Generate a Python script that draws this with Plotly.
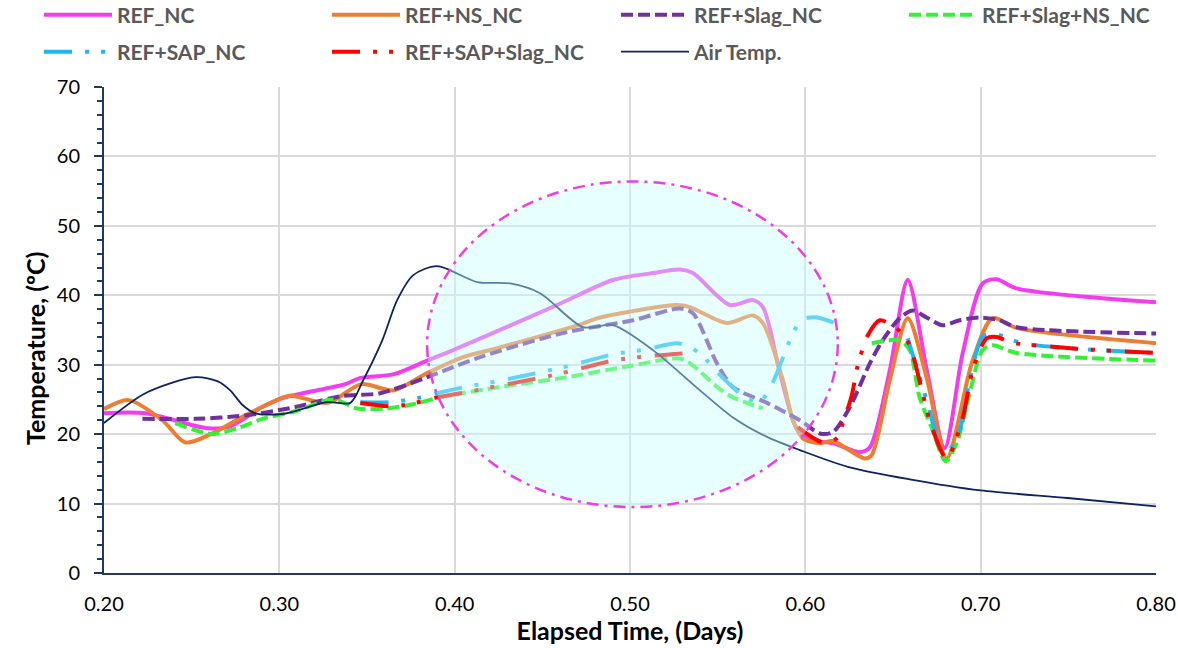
import plotly.graph_objects as go

# ---- series data: elapsed time (days) and temperature (ºC) ----
t_ref = [0.200, 0.2237, 0.2578, 0.2709, 0.2903, 0.3017, 0.3376, 0.3462, 0.3650, 0.3843,
         0.3991, 0.4584, 0.4903, 0.5131, 0.5285, 0.5359, 0.5570, 0.5701, 0.5758, 0.5855,
         0.5929, 0.5969, 0.6043, 0.6157, 0.6311, 0.6368, 0.6482, 0.6584, 0.6693, 0.6795,
         0.6898, 0.7011, 0.7091, 0.7205, 0.8000]
y_ref = [23.0, 23.0, 20.9, 21.0, 23.9, 25.2, 27.2, 28.1, 28.6, 30.6,
         32.1, 38.6, 42.2, 43.2, 43.7, 43.2, 38.6, 39.3, 38.3, 28.8,
         22.0, 20.1, 19.1, 18.7, 17.4, 18.1, 29.2, 42.2, 29.2, 18.0,
         31.7, 41.7, 42.3, 41.0, 39.0]

t_ns = [0.200, 0.2140, 0.2333, 0.2464, 0.2618, 0.2806, 0.3051, 0.3131, 0.3279, 0.3467,
        0.3650, 0.3843, 0.4048, 0.4259, 0.4704, 0.4829, 0.5268, 0.5342, 0.5553, 0.5701,
        0.5758, 0.5872, 0.5929, 0.5986, 0.6083, 0.6157, 0.6339, 0.6379, 0.6482, 0.6584,
        0.6693, 0.6806, 0.6954, 0.7068, 0.7205, 0.8000]
y_ns = [23.6, 24.9, 22.0, 18.8, 20.1, 22.7, 25.5, 25.2, 24.5, 27.2,
        26.3, 28.8, 31.1, 32.5, 35.7, 36.8, 38.6, 38.3, 36.0, 37.1,
        36.0, 27.8, 22.0, 19.4, 18.7, 19.0, 16.5, 17.0, 27.8, 36.7,
        28.0, 16.5, 30.6, 36.7, 35.3, 33.1]

t_slag = [0.2219, 0.2521, 0.2806, 0.3091, 0.3359, 0.3575, 0.3843, 0.4145, 0.4641, 0.5017,
          0.5285, 0.5359, 0.5496, 0.5587, 0.5781, 0.5969, 0.6083, 0.6157, 0.6254, 0.6368,
          0.6441, 0.6538, 0.6612, 0.6692, 0.6783, 0.6880, 0.6994, 0.7108, 0.7205, 0.8000]
y_slag = [22.2, 22.2, 22.7, 23.9, 25.5, 25.9, 28.2, 31.1, 34.7, 36.4,
          38.1, 37.4, 30.2, 26.8, 24.5, 22.0, 20.1, 20.3, 23.9, 30.2,
          33.5, 36.7, 37.8, 36.8, 35.7, 36.4, 36.8, 36.4, 35.4, 34.5]

t_slag_ns = [0.2407, 0.2618, 0.2766, 0.2903, 0.3091, 0.3308, 0.3444, 0.3615, 0.3764, 0.3917,
             0.4259, 0.4641, 0.5017, 0.5285, 0.5359, 0.5496, 0.5587, 0.5758, 0.6070,
             0.6379, 0.6538, 0.6595, 0.6652, 0.6726, 0.6800, 0.6863, 0.6937, 0.7011, 0.7068,
             0.7205, 0.8000]
y_slag_ns = [21.6, 20.0, 20.9, 22.2, 23.3, 25.0, 23.7, 23.7, 24.3, 25.3,
             26.8, 28.2, 29.9, 30.9, 29.9, 26.8, 25.3, 23.7, None,
             33.1, 33.5, 32.1, 25.3, 20.6, 16.1, 18.7, 25.9, 32.1, 32.8,
             31.7, 30.6]

t_sap = [0.3462, 0.3632, 0.3809, 0.3900, 0.4060, 0.4236, 0.4487, 0.4664, 0.4903, 0.5091,
         0.5268, 0.5342, 0.5410, 0.5473, 0.5530, 0.5655, 0.5741, 0.5798, 0.5838, 0.5895,
         0.5929, 0.5980, 0.6066, 0.6168, 0.6380,
         0.6584, 0.6692, 0.6795, 0.6880, 0.6937, 0.7011, 0.7068, 0.7239, 0.7604, 0.8000]
y_sap = [24.6, 24.6, 25.3, 25.9, 26.8, 27.6, 28.9, 29.9, 31.5, 32.2,
         33.1, 32.5, 31.4, 29.6, 28.1, 25.3, 24.7, 26.6, 28.8, 32.5,
         34.5, 36.5, 36.8, 36.0, None,
         33.8, 24.9, 17.0, 20.6, 27.8, 34.0, 34.5, 33.1, 32.2, 31.7]

t_sap_slag = [0.3462, 0.3632, 0.3718, 0.3809, 0.3900, 0.4060, 0.4236, 0.4487, 0.4664, 0.4903,
              0.5091, 0.5342, 0.5650,
              0.5957, 0.6100, 0.6180, 0.6214, 0.6265, 0.6299, 0.6356, 0.6425, 0.6493, 0.6544,
              0.6595, 0.6669, 0.6709, 0.6806, 0.6898, 0.6954, 0.7034, 0.7091, 0.7176, 0.7450,
              0.7610, 0.8000]
y_sap_slag = [24.5, 24.0, 24.2, 24.7, 25.3, 26.0, 26.9, 28.1, 29.1, 30.6,
              31.2, 31.7, None,
              21.0, 18.8, 19.4, 21.6, 25.6, 29.9, 34.2, 36.4, 35.7, 34.7,
              32.8, 25.9, 22.0, 16.5, 22.4, 29.2, 33.8, 34.0, 33.2, 32.5,
              32.2, 31.7]

t_air = [0.200, 0.2236, 0.2521, 0.2650, 0.2720, 0.2790, 0.2863, 0.3017, 0.3273, 0.3405,
         0.3479, 0.3587, 0.3672, 0.3764, 0.3900, 0.4128, 0.4316, 0.4487, 0.4732, 0.4903,
         0.5131, 0.5399, 0.5587, 0.5781, 0.5969, 0.6242, 0.6595, 0.7000, 0.7496, 0.8000]
y_air = [21.6, 25.9, 28.2, 27.6, 26.3, 24.2, 23.0, 22.9, 24.6, 24.5,
         27.8, 33.5, 39.3, 42.9, 44.2, 41.9, 41.7, 40.3, 35.4, 35.7,
         32.1, 26.3, 22.4, 19.6, 17.7, 15.3, 13.5, 11.9, 10.8, 9.6]

series_names = ["REF_NC", "REF+NS_NC", "REF+Slag_NC", "REF+Slag+NS_NC",
                "REF+SAP_NC", "REF+SAP+Slag_NC", "Air Temp."]

# highlighted region (elapsed time / temperature extents of the ellipse)
zone_t = [0.3843, 0.6185]
zone_T = [9.5, 56.4]

x_ticks = [0.2, 0.3, 0.4, 0.5, 0.6, 0.7, 0.8]
y_ticks = [0, 10, 20, 30, 40, 50, 60, 70]

# ---- styling ----
L, R, T, B = 104, 22, 87, 75
W, H = 1178, 648
PW, PH = W - L - R, H - T - B

def px_x(px):
    return (px - L) / PW

def px_y(py):
    return (H - B - py) / PH

sap_dash = "28px,13px,4px,12px,4px,14px"
styles = [
    dict(color="#F43BEF", width=4, dash="solid"),
    dict(color="#ED7D31", width=4, dash="solid"),
    dict(color="#7030A0", width=4, dash="12px,5px"),
    dict(color="#33F233", width=4, dash="12px,5px"),
    dict(color="#1DB6F0", width=4, dash=sap_dash),
    dict(color="#FF0000", width=4, dash=sap_dash),
    dict(color="#0A2463", width=1.8, dash="solid"),
]
xs = [t_ref, t_ns, t_slag, t_slag_ns, t_sap, t_sap_slag, t_air]
ys = [y_ref, y_ns, y_slag, y_slag_ns, y_sap, y_sap_slag, y_air]

# legend slots: (line start px, row centre px)
legend_slots = [(44, 15), (332, 15), (621, 15), (909, 15),
                (44, 52), (332, 52), (621, 52)]

fig = go.Figure()
legend_layout = {}
for i, (name, x, y, st) in enumerate(zip(series_names, xs, ys, styles)):
    key = "legend" if i == 0 else f"legend{i + 1}"
    fig.add_trace(go.Scatter(
        x=x, y=y, name=name, mode="lines",
        line=dict(color=st["color"], width=st["width"], dash=st["dash"],
                  shape="spline", smoothing=0.8),
        connectgaps=False, legend=key, showlegend=True,
    ))
    lx, ly = legend_slots[i]
    legend_layout[key] = dict(
        x=px_x(lx - 5), y=px_y(ly), xanchor="left", yanchor="middle",
        xref="paper", yref="paper", orientation="v",
        bgcolor="rgba(0,0,0,0)", borderwidth=0, itemwidth=68,
        font=dict(family="Lato", size=21, color="#595959", weight="bold"),
    )

fig.add_shape(
    type="circle", xref="x", yref="y",
    x0=zone_t[0], x1=zone_t[1], y0=zone_T[0], y1=zone_T[1],
    fillcolor="rgba(200,255,255,0.42)",
    line=dict(color="#F03CE8", width=2.5, dash="12px,6px,3px,6px"),
    layer="above",
)

# vertical axis title
fig.add_annotation(
    text="Temperature, (ºC)", textangle=-90, showarrow=False,
    xref="paper", yref="paper", x=px_x(35), y=px_y(349),
    xanchor="center", yanchor="middle",
    font=dict(family="Lato", size=25, color="#000000", weight="bold"),
)

axis_color = "#1F3864"
fig.update_layout(
    width=W, height=H, showlegend=True,
    margin=dict(l=L, r=R, t=T, b=B, pad=0, autoexpand=False),
    paper_bgcolor="white", plot_bgcolor="white",
    font=dict(family="Lato", color="#000000"),
    xaxis=dict(
        range=[0.2, 0.8], tickvals=x_ticks, tickformat=".2f",
        showgrid=True, gridcolor="#D9D9D9", gridwidth=1.5,
        showline=True, linecolor=axis_color, linewidth=2,
        ticks="", zeroline=False, ticklabelstandoff=12,
        tickfont=dict(family="Lato", size=20, color="#000000"),
        title=dict(text="Elapsed Time, (Days)", standoff=4,
                   font=dict(family="Lato", size=25, color="#000000", weight="bold")),
    ),
    yaxis=dict(
        range=[0, 70], tickvals=y_ticks,
        showgrid=True, gridcolor="#D9D9D9", gridwidth=1.5,
        showline=True, linecolor=axis_color, linewidth=2,
        ticks="outside", ticklen=8, tickwidth=2, tickcolor=axis_color,
        minor=dict(dtick=2, ticks="outside", ticklen=5, tickwidth=1.5,
                   tickcolor=axis_color, showgrid=False),
        zeroline=False, ticklabelstandoff=10,
        tickfont=dict(family="Lato", size=20, color="#000000"),
    ),
    **legend_layout,
)

fig.write_html("out.html")
